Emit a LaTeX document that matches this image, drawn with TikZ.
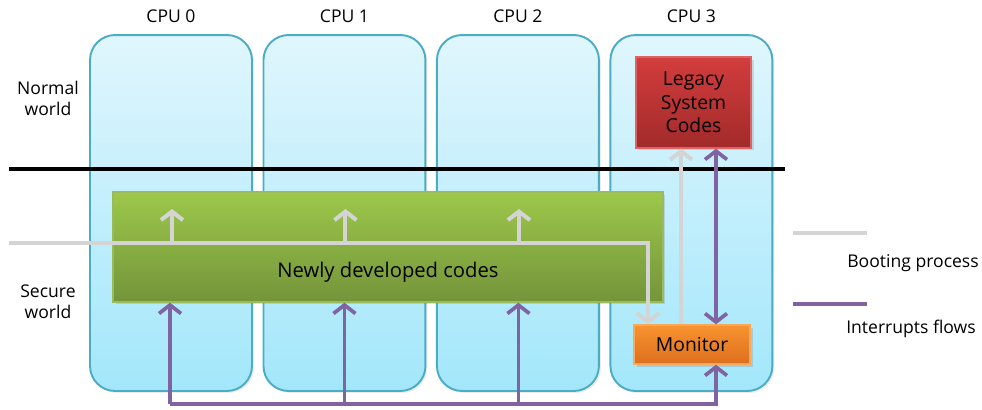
\documentclass[tikz,border=0pt]{standalone}
\usepackage{fontspec}
\setmainfont{Open Sans}
\usepackage{tikz}
\usetikzlibrary{arrows.meta,positioning,shadows}

\definecolor{cpuedge}{HTML}{4BACC6}
\definecolor{cputop}{HTML}{E0F6FD}
\definecolor{cpubot}{HTML}{A3E7FB}
\definecolor{newtop}{HTML}{9DC84B}
\definecolor{newbot}{HTML}{74943A}
\definecolor{newedge}{HTML}{9BBB59}
\definecolor{legtop}{HTML}{D33D3D}
\definecolor{legbot}{HTML}{A22A2A}
\definecolor{montop}{HTML}{F8942F}
\definecolor{monbot}{HTML}{DD6E1E}
\definecolor{bootgray}{HTML}{D4D4D4}
\definecolor{irqpurple}{HTML}{8064A2}

\begin{document}
\begin{tikzpicture}[x=0.02cm,y=-0.02cm,>={Straight Barb[length=1.7mm,width=4.4mm]},node distance=3.47cm,font=\fontsize{10pt}{12pt}\selectfont]
\tikzstyle{cpu}=[draw=cpuedge,line width=1.1pt,rounded corners=0.5cm,minimum width=3.24cm,minimum height=7.12cm,top color=cputop,bottom color=cpubot,drop shadow={opacity=0.15,shadow xshift=0.04cm,shadow yshift=-0.04cm}]
\tikzstyle{code}=[draw,line width=0.8pt,inner sep=0pt,drop shadow={opacity=0.25,shadow xshift=0.05cm,shadow yshift=-0.05cm}]
\tikzstyle{boot}=[draw=bootgray,line width=2.3pt]
\tikzstyle{irq}=[draw=irqpurple,line width=2.1pt]

\useasboundingbox (0,0) rectangle (982,409);

\node[cpu] (C0) at (171,213) {};
\node[cpu,right of=C0] (C1) {};
\node[cpu,right of=C1] (C2) {};
\node[cpu,right of=C2] (C3) {};
\node[above=0.1cm of C0] (T0) {CPU 0};
\node[above=0.1cm of C1] (T1) {CPU 1};
\node[above=0.1cm of C2] (T2) {CPU 2};
\node[above=0.1cm of C3] (T3) {CPU 3};

% worlds and the line between them
\node[align=center] (NW) at (48,98) {Normal\\world};
\node[align=center] (SW) at (48,302) {Secure\\world};
\coordinate (divL) at (9,169);
\coordinate (divR) at (785,169);
\draw[line width=2.2pt] (divL) -- (divR);

\node[code,draw=newedge,top color=newtop,bottom color=newbot,minimum width=11cm,minimum height=2.2cm] (N) at (388,247) {};
\node[font=\fontsize{11.5pt}{13pt}\selectfont] (Ntxt) at (388,272) {Newly developed codes};
\node[code,draw=legtop!80!white,top color=legtop,bottom color=legbot,minimum width=2.3cm,minimum height=1.82cm,align=center,font=\fontsize{11pt}{13.4pt}\selectfont] (L) at (693.5,102.5) {Legacy\\System\\Codes};
\node[code,draw=montop!80!white,top color=montop,bottom color=monbot,minimum width=2.32cm,minimum height=0.78cm,font=\fontsize{11pt}{13pt}\selectfont] (M) at (692,344.5) {Monitor};

% booting process
\coordinate (bootin) at (9,243);
\coordinate (bootturn) at (648,243);
\draw[boot,->] (bootin) -| (bootturn |- M.north);
\foreach \c in {C0,C1,C2}
  \draw[boot,->] ([xshift=0.02cm]\c |- bootin) -- ++(0,-34);
\draw[boot,->] ([xshift=-0.22cm]M.north) -- ([xshift=-0.22cm]M.north |- L.south);

% interrupt flows
\coordinate (irqin) at (170,404);
\draw[irq,->] (irqin) -| ([xshift=0.48cm]M.south);
\draw[irq,->] (irqin) -- (irqin |- N.south);
\draw[irq,->] (C1 |- irqin) -- (C1 |- N.south);
\draw[irq,->] ([xshift=0.01cm]C2 |- irqin) -- ([xshift=0.01cm]C2 |- N.south);
\draw[irq,<->] ([xshift=0.48cm]M.north) -- ([xshift=0.48cm]M.north |- L.south);

% legend
\coordinate (bootA) at (793,233);
\coordinate (bootB) at (867,233);
\coordinate (irqA) at (793,304);
\coordinate (irqB) at (867,304);
\draw[draw=bootgray,line width=2.6pt] (bootA) -- (bootB);
\draw[draw=irqpurple,line width=2.8pt] (irqA) -- (irqB);
\node (Bt) at (913,263) {Booting process};
\node (It) at (911,329) {Interrupts flows};
\end{tikzpicture}
\end{document}
